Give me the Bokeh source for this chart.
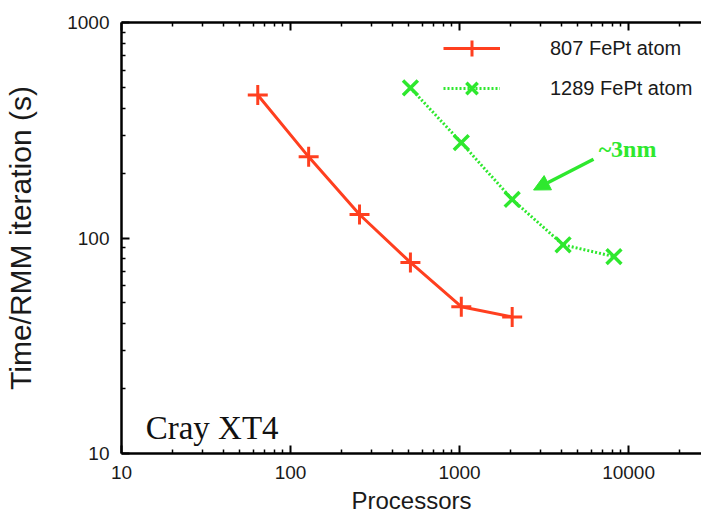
from bokeh.plotting import figure
from bokeh.models import (Range1d, LogAxis, FixedTicker, Legend, LegendItem, Label,
                          Arrow, NormalHead, NumeralTickFormatter)
from bokeh.embed import file_html
from bokeh.resources import INLINE

# ---- data ----
procs_807 = [64, 128, 256, 512, 1024, 2048]
time_807 = [461, 238, 128.5, 77, 48, 43]
procs_1289 = [512, 1024, 2048, 4096, 8192]
time_1289 = [497, 277, 151, 93, 82]
series_names = ["807 FePt atom", "1289 FePt atom"]
x_major = [10, 100, 1000, 10000]
y_major = [10, 100, 1000]
x_label = "Processors"
y_label = "Time/RMM iteration (s)"
machine = "Cray XT4"
note = "~3nm"

RED = "#ff3f1f"
GREEN = "#2ee82e"
FONT = "Liberation Sans"
SERIF = "Liberation Serif"

def minors(majors):
    out = []
    for m in majors:
        out += [m * k for k in range(2, 10)]
    return out

p = figure(width=701, height=516, x_axis_type="log", y_axis_type="log",
           x_range=Range1d(10, 27000), y_range=Range1d(10, 1000),
           output_backend="svg", toolbar_location=None,
           min_border_left=121, min_border_right=0, min_border_top=22,
           min_border_bottom=62)
p.outline_line_color = None
p.grid.visible = False
p.background_fill_color = "white"
p.border_fill_color = "white"

xt = FixedTicker(ticks=x_major, minor_ticks=minors(x_major))
yt = FixedTicker(ticks=y_major, minor_ticks=minors(y_major))

for ax in (p.xaxis[0], p.yaxis[0]):
    ax.axis_line_width = 2.5
    ax.axis_line_color = "black"
    ax.major_tick_in = 8
    ax.major_tick_out = 0
    ax.minor_tick_in = 4
    ax.minor_tick_out = 0
    ax.major_tick_line_width = 2
    ax.minor_tick_line_width = 1.5
    ax.major_label_text_font = FONT
    ax.major_label_text_font_size = "19px"
    ax.major_label_text_color = "#1a1a1a"
    ax.axis_label_text_font = FONT
    ax.axis_label_text_font_style = "normal"
    ax.axis_label_text_color = "#1a1a1a"
    ax.formatter = NumeralTickFormatter(format="0")

p.xaxis[0].ticker = xt
p.yaxis[0].ticker = yt
p.xaxis[0].major_label_standoff = 12
p.yaxis[0].major_label_standoff = 12
p.xaxis[0].axis_label = x_label
p.xaxis[0].axis_label_text_font_size = "24px"
p.xaxis[0].axis_label_standoff = 5
p.yaxis[0].axis_label = y_label
p.yaxis[0].axis_label_text_font_size = "30px"
p.yaxis[0].axis_label_standoff = 27

top = LogAxis(ticker=FixedTicker(ticks=x_major, minor_ticks=minors(x_major)),
              major_label_text_font_size="8px", major_label_text_alpha=0,
              axis_line_width=2.5,
              major_tick_in=8, major_tick_out=0, minor_tick_in=4, minor_tick_out=0,
              major_tick_line_width=2, minor_tick_line_width=1.5)
p.add_layout(top, "above")

r1 = p.line(procs_807, time_807, line_color=RED, line_width=3)
s1 = p.scatter(procs_807, time_807, marker="cross", size=20, line_color=RED,
               line_width=3)
r2 = p.line(procs_1289, time_1289, line_color=GREEN, line_width=3, line_dash="2 2")
s2 = p.scatter(procs_1289, time_1289, marker="x", size=21, line_color=GREEN,
               line_width=3.5)

legend = Legend(items=[LegendItem(label=series_names[0], renderers=[r1, s1]),
                       LegendItem(label=series_names[1], renderers=[r2, s2])],
                location=(322, 345), glyph_width=57, glyph_height=40, spacing=0,
                padding=0, margin=0, label_standoff=50,
                label_text_font=FONT, label_text_font_size="20px",
                label_text_color="#1a1a1a", background_fill_alpha=0,
                border_line_color=None)
p.add_layout(legend)

p.add_layout(Label(x=13.9, y=13.2, text=machine, text_font=SERIF,
                   text_font_size="33px", text_color="#111111",
                   text_baseline="alphabetic"))
p.add_layout(Label(x=9860, y=258, text=note, text_font=SERIF,
                   text_font_size="24px", text_font_style="bold",
                   text_color=GREEN, text_align="center",
                   text_baseline="alphabetic"))
p.add_layout(Arrow(end=NormalHead(size=16, fill_color=GREEN, line_color=GREEN),
                   x_start=6200, y_start=232, x_end=2740, y_end=167,
                   line_color=GREEN, line_width=3.5))

open("out.html", "w").write(file_html(p, INLINE))
